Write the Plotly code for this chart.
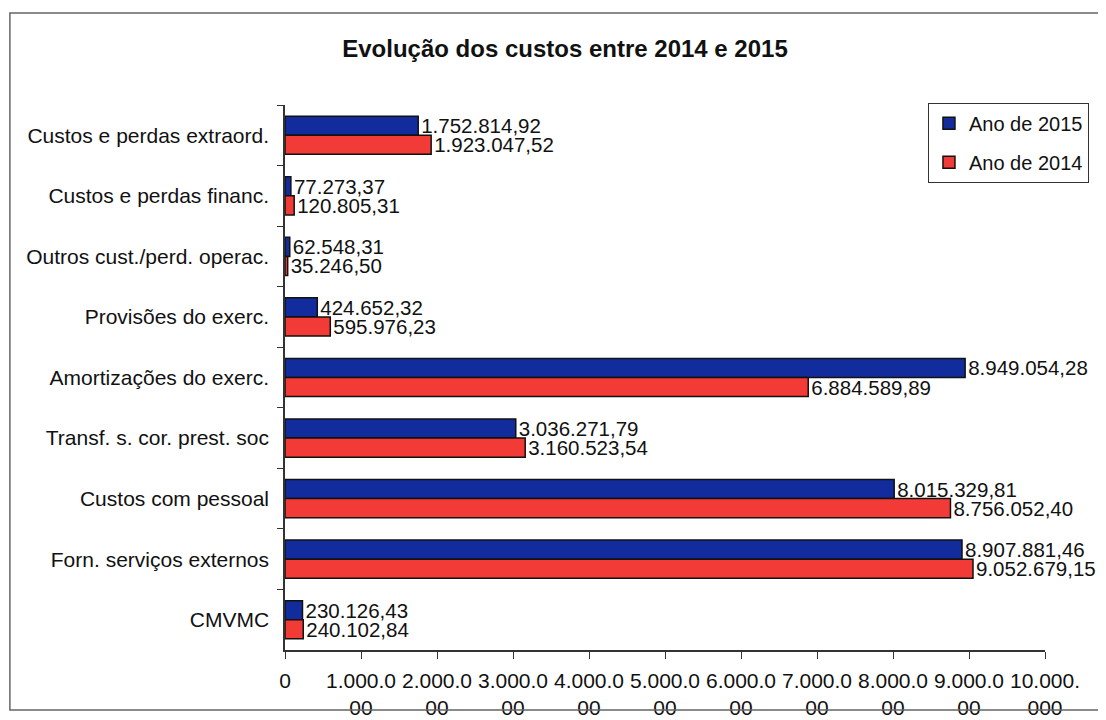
import plotly.graph_objects as go

categories = [
    "Custos e perdas extraord.",
    "Custos e perdas financ.",
    "Outros cust./perd. operac.",
    "Provisões do exerc.",
    "Amortizações do exerc.",
    "Transf. s. cor. prest. soc",
    "Custos com pessoal",
    "Forn. serviços externos",
    "CMVMC",
]
ano_2015 = [1752814.92, 77273.37, 62548.31, 424652.32, 8949054.28,
            3036271.79, 8015329.81, 8907881.46, 230126.43]
ano_2014 = [1923047.52, 120805.31, 35246.50, 595976.23, 6884589.89,
            3160523.54, 8756052.40, 9052679.15, 240102.84]
tick_values = [0, 1000000, 2000000, 3000000, 4000000, 5000000,
               6000000, 7000000, 8000000, 9000000, 10000000]
tick_labels = ["0", "1.000.0<br>00", "2.000.0<br>00", "3.000.0<br>00",
               "4.000.0<br>00", "5.000.0<br>00", "6.000.0<br>00",
               "7.000.0<br>00", "8.000.0<br>00", "9.000.0<br>00",
               "10.000.<br>000"]


def pt(v):
    s = f"{v:,.2f}"
    return s.replace(",", "X").replace(".", ",").replace("X", ".")


FONT = "Liberation Sans, Arial, sans-serif"

fig = go.Figure()
fig.add_trace(go.Bar(
    name="Ano de 2015", y=categories, x=ano_2015, orientation="h",
    legendgroup="a",
    marker=dict(color="#122c9e", line=dict(color="#111111", width=1.5)),
    text=[pt(v) for v in ano_2015], textposition="outside",
    textfont=dict(size=20.5, color="#111111", family=FONT),
    cliponaxis=False, constraintext="none",
))
fig.add_trace(go.Bar(
    name="Ano de 2014", y=categories, x=ano_2014, orientation="h",
    legendgroup="b",
    marker=dict(color="#f23b36", line=dict(color="#111111", width=1.5)),
    text=[pt(v) for v in ano_2014], textposition="outside",
    textfont=dict(size=20.5, color="#111111", family=FONT),
    cliponaxis=False, constraintext="none",
))

fig.update_layout(
    width=1106, height=720,
    margin=dict(l=277, r=69, t=97, b=78, autoexpand=False),
    paper_bgcolor="white", plot_bgcolor="white",
    barmode="group", bargap=0.37, bargroupgap=0,
    font=dict(family=FONT, color="#111111"),
    title=dict(text="<b>Evolução dos custos entre 2014 e 2015</b>",
               x=0.5036, xanchor="center", y=0.944, yanchor="middle",
               font=dict(size=24, family=FONT, color="#111111")),
    showlegend=True,
    legend=dict(x=0.846, y=1.004, xanchor="left", yanchor="top",
                bgcolor="white", bordercolor="#333333", borderwidth=1,
                font=dict(size=20, family=FONT, color="#111111"),
                itemwidth=30, tracegroupgap=10),
    shapes=[dict(type="rect", xref="paper", yref="paper",
                 x0=-0.362, x1=1.12, y0=-0.110, y1=1.169,
                 line=dict(color="#666666", width=1.5))],
)
fig.update_xaxes(
    range=[0, 10000000], tickvals=tick_values, ticktext=tick_labels,
    showgrid=False, zeroline=False, showline=True, linecolor="#333333",
    linewidth=1.5, ticks="outside", ticklen=7, tickcolor="#333333",
    automargin=False, ticklabelstandoff=4,
    tickfont=dict(size=21, family=FONT, color="#111111"),
)
fig.update_yaxes(
    autorange="reversed", showgrid=False, showline=True, linecolor="#333333",
    linewidth=1.5, ticks="outside", ticklen=6, tickcolor="#333333",
    tickson="boundaries", ticklabelstandoff=10, automargin=False,
    tickfont=dict(size=21, family=FONT, color="#111111"),
)

fig.write_html("out.html")
